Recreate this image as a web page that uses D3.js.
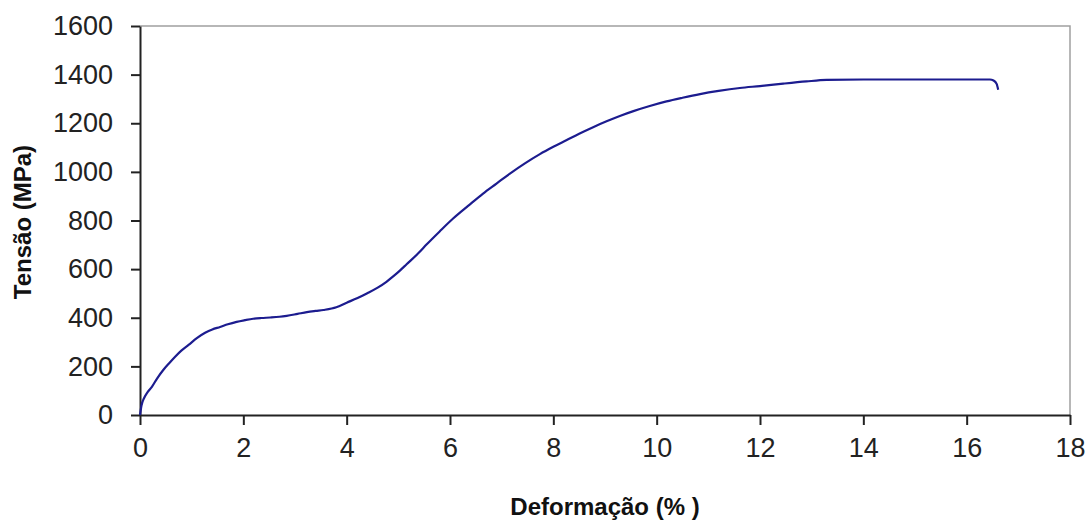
<!DOCTYPE html>
<html>
<head>
<meta charset="utf-8">
<title>Tensão x Deformação</title>
<script src="https://cdn.jsdelivr.net/npm/d3@7"></script>
<style>
    body { margin: 0; background: #fff; }
    .tick text { font-family: "Liberation Sans", Arial, sans-serif; font-size: 27px; fill: #222; }
    .axis path, .axis line { stroke: #222; stroke-width: 2px; }
    .title { font-family: "Liberation Sans", Arial, sans-serif; font-size: 24px; font-weight: bold; fill: #111; text-anchor: middle; }
    .curve { fill: none; stroke: #1c1c8f; stroke-width: 2.2px; stroke-linejoin: round; }
    .frame { fill: none; stroke: #a0a0a0; stroke-width: 1.5px; }
</style>
</head>
<body>
<script>
    // deformacao (%) e tensao (MPa)
    var strain = [0, 0.03, 0.08, 0.15, 0.23, 0.33, 0.45, 0.56, 0.68, 0.8, 0.94, 1.1, 1.26, 1.4, 1.55, 1.7, 1.87, 2.03, 2.19,
                  2.35, 2.52, 2.7, 2.84, 3.05, 3.23, 3.4, 3.55, 3.8, 4.0, 4.2, 4.39, 4.6, 4.77, 4.9, 5.03, 5.16, 5.39, 5.55,
                  5.8, 6.06, 6.35, 6.64, 6.9, 7.16, 7.45, 7.74, 8.0, 8.26, 8.5, 8.77, 9.03, 9.3, 9.55, 9.85, 10.19, 10.5,
                  10.84, 11.2, 11.61, 12.0, 12.45, 12.9, 13.29, 14.0, 15.0, 16.0, 16.45, 16.52, 16.58, 16.61];
    var stress = [0, 40, 70, 95, 116, 150, 185, 212, 240, 265, 288, 316, 338, 352, 362, 373, 383, 390, 396,
                  399, 401, 404, 408, 416, 423, 428, 432, 443, 462, 480, 500, 524, 548, 570, 594, 620, 666, 702,
                  755, 808, 860, 911, 952, 993, 1035, 1073, 1103, 1131, 1157, 1184, 1208, 1231, 1250, 1270, 1290, 1305,
                  1320, 1333, 1345, 1353, 1363, 1372, 1378, 1380, 1380, 1380, 1380, 1376, 1362, 1338];
    var xTicks = [0, 2, 4, 6, 8, 10, 12, 14, 16, 18];
    var yTicks = [0, 200, 400, 600, 800, 1000, 1200, 1400, 1600];

    var width = 1090, height = 523;
    var margin = { left: 140, right: 20, top: 26, bottom: 108 };
    var innerW = width - margin.left - margin.right,
        innerH = height - margin.top - margin.bottom;

    var svg = d3.select("body").append("svg")
        .attr("width", width)
        .attr("height", height);

    var g = svg.append("g")
        .attr("transform", "translate(" + margin.left + "," + margin.top + ")");

    var x = d3.scaleLinear().domain([0, 18]).range([0, innerW]);
    var y = d3.scaleLinear().domain([0, 1600]).range([innerH, 0]);

    // top and right border of plot area
    g.append("path")
        .attr("class", "frame")
        .attr("d", "M0,0H" + innerW + "V" + innerH);

    g.append("g")
        .attr("class", "axis")
        .attr("transform", "translate(0," + innerH + ")")
        .call(d3.axisBottom(x).tickValues(xTicks).tickFormat(d3.format("d"))
            .tickSize(10).tickSizeOuter(0).tickPadding(13));

    g.append("g")
        .attr("class", "axis")
        .call(d3.axisLeft(y).tickValues(yTicks).tickFormat(d3.format("d"))
            .tickSize(9).tickSizeOuter(0).tickPadding(18));

    var data = strain.map(function (d, i) { return [d, stress[i]]; });

    var line = d3.line()
        .x(function (d) { return x(d[0]); })
        .y(function (d) { return y(d[1]); })
        .curve(d3.curveMonotoneX);

    g.append("path")
        .datum(data)
        .attr("class", "curve")
        .attr("d", line);

    svg.append("text")
        .attr("class", "title")
        .attr("x", 605)
        .attr("y", 515)
        .text("Deformação (% )");

    svg.append("text")
        .attr("class", "title")
        .attr("transform", "translate(31,222) rotate(-90)")
        .text("Tensão (MPa)");
</script>
</body>
</html>
